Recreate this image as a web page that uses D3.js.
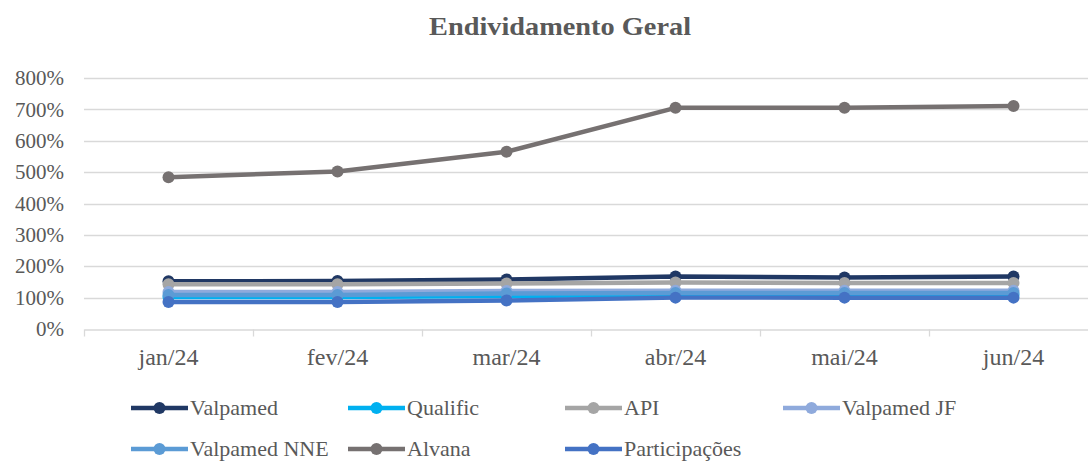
<!DOCTYPE html>
<html>
<head>
<meta charset="utf-8">
<script src="https://cdnjs.cloudflare.com/ajax/libs/d3/7.8.5/d3.min.js"></script>
<style>
  body { margin: 0; background: #fff; }
  text { font-family: "Liberation Serif", "DejaVu Serif", serif; fill: #595959; }
</style>
</head>
<body>
<div id="chart"></div>
<script>
// dados
var meses = ["jan/24", "fev/24", "mar/24", "abr/24", "mai/24", "jun/24"];
var series = ["Valpamed", "Qualific", "API", "Valpamed JF", "Valpamed NNE", "Alvana", "Participações"];
var valpamed    = [152, 153, 158, 167, 164, 167];
var qualific    = [102, 102, 105, 108, 108, 108];
var api         = [143, 143, 145, 148, 147, 147];
var valpamedJF  = [118, 118, 121, 122, 122, 122];
var valpamedNNE = [108, 108, 113, 115, 115, 115];
var alvana      = [484, 502, 565, 705, 705, 711];
var participacoes = [86, 86, 91, 100, 100, 100];
var yTicks = [0, 100, 200, 300, 400, 500, 600, 700, 800];

var valores = [valpamed, qualific, api, valpamedJF, valpamedNNE, alvana, participacoes];
var cores = ["#203864", "#00b0f0", "#a5a5a5", "#8faadc", "#5b9bd5", "#767171", "#4472c4"];

var width = 1088, height = 461;
var serif = "'Liberation Serif', 'DejaVu Serif', serif";
var svg = d3.select("#chart").append("svg")
    .attr("width", width)
    .attr("height", height);

var x = d3.scaleBand().domain(meses).range([84, 1098]);
var y = d3.scaleLinear().domain([0, 800]).range([329, 78]);

// titulo
svg.append("text")
    .attr("x", 560).attr("y", 35)
    .attr("text-anchor", "middle")
    .attr("textLength", 262)
    .attr("lengthAdjust", "spacingAndGlyphs")
    .style("font-family", serif)
    .style("font-size", "26px")
    .style("font-weight", "bold")
    .text("Endividamento Geral");

// grade
svg.append("g").selectAll("line")
    .data(yTicks.slice(1))
    .enter().append("line")
    .attr("x1", 84).attr("x2", width)
    .attr("y1", function (d) { return Math.round(y(d)) + 0.5; })
    .attr("y2", function (d) { return Math.round(y(d)) + 0.5; })
    .attr("stroke", "#d9d9d9")
    .attr("stroke-width", 1.3);

// eixo y
var yAxis = d3.axisLeft(y).tickValues(yTicks).tickSize(0).tickPadding(0)
    .tickFormat(function (d) { return d + "%"; });
svg.append("g")
    .attr("transform", "translate(64,0)")
    .call(yAxis)
    .call(function (g) { g.select(".domain").remove(); })
    .selectAll("text")
    .style("font-size", "21px")
    .attr("fill", "#595959")
    .style("font-family", serif);

// eixo x
var xAxis = d3.axisBottom(x).tickSize(0).tickPadding(0);
var gx = svg.append("g")
    .attr("transform", "translate(0," + (Math.round(y(0)) + 0.5) + ")")
    .call(xAxis);
gx.select(".domain").attr("stroke", "#d9d9d9").attr("stroke-width", 1.3);
gx.selectAll("text")
    .attr("y", 35)
    .attr("dy", 0)
    .style("font-size", "24px")
    .attr("fill", "#595959")
    .style("font-family", serif);
gx.selectAll(".sep")
    .data(meses)
    .enter().append("line")
    .attr("class", "sep")
    .attr("x1", function (d) { return Math.round(x(d)) + 0.5; })
    .attr("x2", function (d) { return Math.round(x(d)) + 0.5; })
    .attr("y1", 0).attr("y2", 7)
    .attr("stroke", "#d9d9d9")
    .attr("stroke-width", 1.3);

// linhas
var line = d3.line()
    .x(function (d, i) { return x(meses[i]) + x.bandwidth() / 2; })
    .y(function (d) { return y(d); });

var grupos = svg.append("g").selectAll("g")
    .data(valores)
    .enter().append("g");

grupos.append("path")
    .attr("d", function (d) { return line(d); })
    .attr("fill", "none")
    .attr("stroke", function (d, i) { return cores[i]; })
    .attr("stroke-width", 4.5)
    .attr("stroke-linejoin", "round");

grupos.each(function (d, i) {
    d3.select(this).selectAll("circle")
        .data(d)
        .enter().append("circle")
        .attr("cx", function (v, j) { return x(meses[j]) + x.bandwidth() / 2; })
        .attr("cy", function (v) { return y(v); })
        .attr("r", 6)
        .attr("fill", cores[i]);
});

// legenda (4 colunas)
var legCols = [131, 348, 565, 783];
var leg = svg.append("g").selectAll("g")
    .data(series)
    .enter().append("g")
    .attr("transform", function (d, i) {
        return "translate(" + legCols[i % 4] + "," + (408 + Math.floor(i / 4) * 41) + ")";
    });
leg.append("line")
    .attr("x1", 0).attr("x2", 57)
    .attr("y1", 0).attr("y2", 0)
    .attr("stroke", function (d, i) { return cores[i]; })
    .attr("stroke-width", 4.5);
leg.append("circle")
    .attr("cx", 28.5).attr("cy", 0).attr("r", 6)
    .attr("fill", function (d, i) { return cores[i]; });
leg.append("text")
    .attr("x", 59).attr("y", 0)
    .attr("dy", "0.33em")
    .style("font-family", serif)
    .style("font-size", "22px")
    .text(function (d) { return d; });
</script>
</body>
</html>
